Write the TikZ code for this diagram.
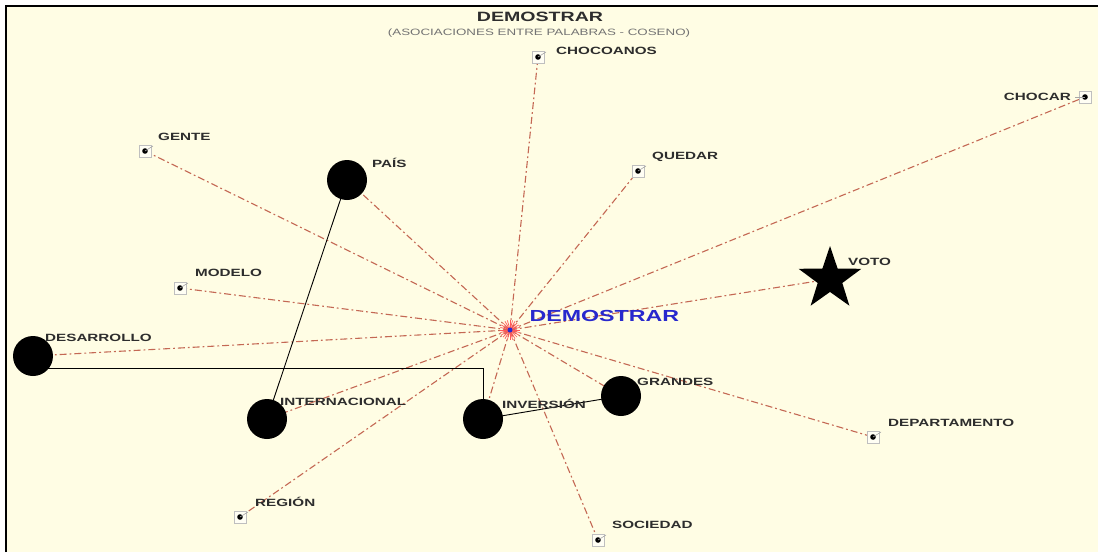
\documentclass[tikz,border=0pt]{standalone}
\usepackage{fontspec}
\setmainfont{Liberation Sans}[FakeStretch=1.45]
\usepackage{tikz}
\usetikzlibrary{shapes.geometric,backgrounds}
\definecolor{paper}{RGB}{255,253,228}
\definecolor{assoc}{RGB}{196,104,84}
\definecolor{hubblue}{RGB}{40,40,205}
\definecolor{wordgray}{RGB}{45,45,45}
\begin{document}
\begin{tikzpicture}[
    x=1pt, y=-1pt,
    word/.style={font=\bfseries\fontsize{10.5}{12}\selectfont, text=wordgray, inner sep=0pt},
    marker/.style={draw=gray!50, fill=white!60!paper, minimum size=12pt, inner sep=0pt,
      path picture={\fill[black] (path picture bounding box.center) circle (2.8pt);}},
    bigdot/.style={circle, fill=black, minimum size=40pt, inner sep=0pt},
    assocline/.style={draw=assoc, line width=1.1pt, dash pattern=on 7pt off 3pt on 1.8pt off 3pt},
    linkline/.style={draw=black, line width=0.9pt},
    tick/.style={draw=gray!70, line width=0.6pt}
]
\useasboundingbox (0,0) rectangle (1098,552);

% title
\node[font=\bfseries\fontsize{13.5}{15}\selectfont, text=wordgray] (title) at (540,17) {DEMOSTRAR};
\node[font=\fontsize{9.2}{10}\selectfont, text=gray!90!black] (subtitle) at (539,33) {(ASOCIACIONES ENTRE PALABRAS - COSENO)};

% centre word
\node[circle, fill=hubblue, minimum size=5pt, inner sep=0pt] (hub) at (510,330) {};
\node[font=\bfseries\fontsize{16}{18}\selectfont, text=hubblue, anchor=west] (hubname) at (526,316) {DEMOSTRAR};

% words with a marker
\foreach \n/\x/\y/\t/\lx/\ly in {cho/538/57/CHOCOANOS/556/51, gen/145/151/GENTE/158/137,
    que/638/171/QUEDAR/652/157, mod/180/288/MODELO/195/273,
    dep/873/437/DEPARTAMENTO/888/423, reg/240/517/REGIÓN/255/502,
    soc/598/540/SOCIEDAD/612/525}{
  \node[marker] (\n) at (\x,\y) {};
  \draw[tick] (\n.center) -- ++(8,-5);
  \node[word, anchor=west] (\n-l) at (\lx,\ly) {\t};
}
\node[marker] (chr) at (1085,97) {};
\draw[tick] (chr.center) -- ++(-10,0);
\node[word, anchor=east] (chr-l) at (1071,97) {CHOCAR};

% marked words
\foreach \n/\x/\y/\t/\lx/\ly in {pai/347/180/PAÍS/372/163, des/33/356/DESARROLLO/45/338,
    int/267/419/INTERNACIONAL/280/402, inv/483/419/INVERSIÓN/502/404,
    gra/621/396/GRANDES/637/382}{
  \node[bigdot] (\n) at (\x,\y) {};
  \node[word, anchor=west] (\n-l) at (\lx,\ly) {\t};
}
\node[star, star points=5, star point ratio=2.55, fill=black, minimum size=66pt, inner sep=0pt] (vot) at (830,279) {};
\node[word, anchor=west] (vot-l) at (848,262) {VOTO};

\begin{scope}[on background layer]
  \fill[paper] (6,6) rectangle (1098,552);
  \draw[black, line width=1.6pt] (6,552) -- (6,6) -- (1098,6);
  \foreach \n in {cho,chr,gen,que,mod,dep,reg,soc,pai,des,int,inv,gra,vot}
    \draw[assocline] (hub.center) -- (\n.center);
  \foreach \a in {0,15,...,345}
    \draw[red!65, line width=0.7pt] (hub.center) -- ++(\a:10);
  \draw[linkline] (pai.center) -- (int.center);
  \draw[linkline] ([yshift=-12pt]des.center) -| (inv.center);
  \draw[linkline] (inv.center) -- (gra.center);
\end{scope}
\end{tikzpicture}
\end{document}
